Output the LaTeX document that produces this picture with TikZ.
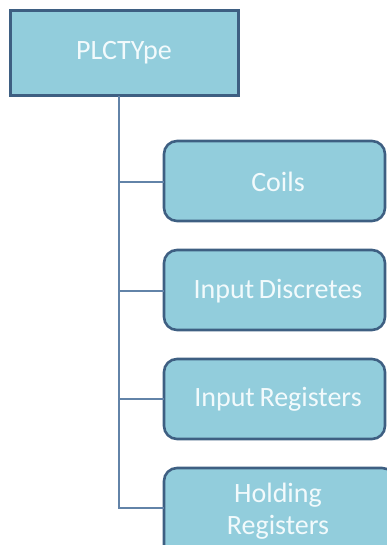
\documentclass[tikz,border=0pt]{standalone}
\usepackage{fontspec}
\setmainfont{Carlito}
\definecolor{boxfill}{HTML}{92CDDC}
\definecolor{boxedge}{HTML}{3E5F82}
\definecolor{wire}{HTML}{6283A8}
\definecolor{boxtext}{HTML}{F2FAFC}
\tikzset{
  rootbox/.style={draw=boxedge, line width=3pt, fill=boxfill},
  leafbox/.style={draw=boxedge, line width=2.6pt, fill=boxfill, rounded corners=13pt},
  label/.style={text=boxtext, font=\fontsize{28}{32}\selectfont, align=center, inner sep=0pt},
  wireline/.style={draw=wire, line width=1.1pt}
}
\begin{document}
\begin{tikzpicture}[x=1pt, y=-1pt]
  \useasboundingbox (0,0) rectangle (387,545);
  \clip (0,0) rectangle (387,545);
  % root box
  \draw[rootbox] (10,11) rectangle (238,96);
  \node[label] (root) at (124,53) {PLCTYpe};
  \coordinate (trunk) at (119,96);
  % child boxes
  \draw[leafbox] (164,141) rectangle (385,221);
  \node[label] (coils) at (278,182) {Coils};
  \draw[leafbox] (164,250) rectangle (385,330);
  \node[label] (disc) at (278,291) {Input\,Discretes};
  \draw[leafbox] (164,359) rectangle (385,439);
  \node[label] (ireg) at (278,399) {Input\,Registers};
  \draw[leafbox] (164,468) rectangle (395,560);
  \node[label] (hreg) at (278,511) {Holding\\Registers};
  % branch anchors on the left edges
  \coordinate (c1) at (164,182);
  \coordinate (c2) at (164,291);
  \coordinate (c3) at (164,399);
  \coordinate (c4) at (164,508);
  % tree connectors
  \path[wireline] (trunk) |- (c4);
  \path[wireline] (trunk) |- (c1);
  \path[wireline] (trunk) |- (c2);
  \path[wireline] (trunk) |- (c3);
\end{tikzpicture}
\end{document}
